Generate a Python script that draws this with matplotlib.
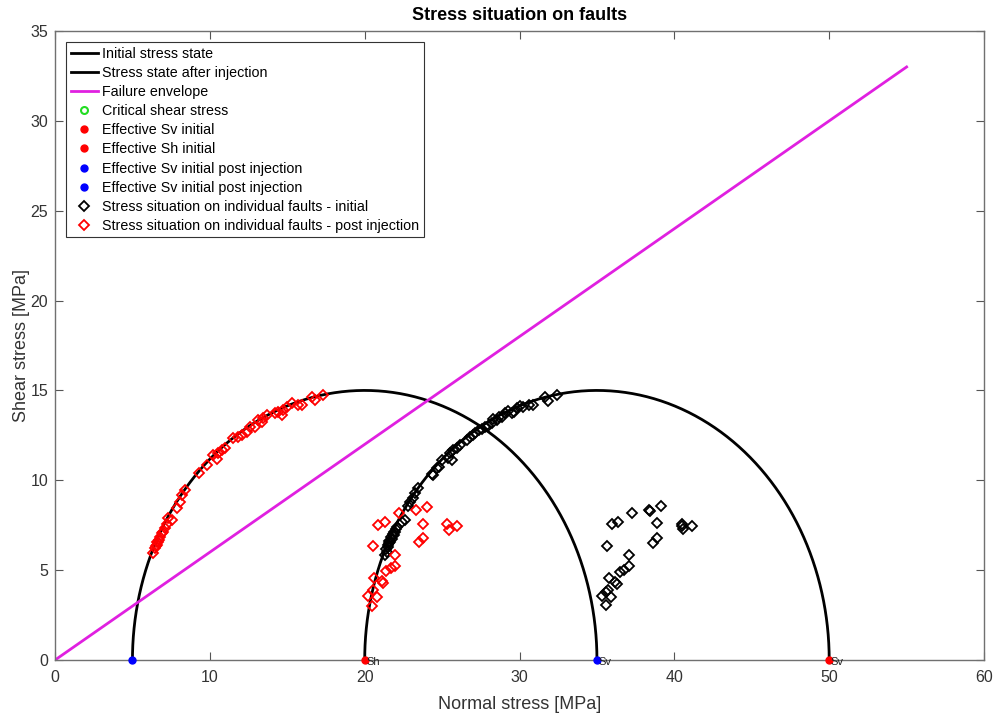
import numpy as np
import matplotlib
matplotlib.use("Agg")
import matplotlib.pyplot as plt

plt.rcParams["font.family"] = ["Liberation Sans", "DejaVu Sans"]

# effective principal stresses [MPa]
sh_initial, sv_initial = 20.0, 50.0
sh_post, sv_post = 5.0, 35.0

# Coulomb failure envelope end points
env_sigma = [0.0, 55.0]
env_tau = [0.0, 33.0]

# stress on individual faults, initial state (normal, shear)
faults_sn_init = [32.41, 31.87, 31.65, 30.90, 30.58, 30.25, 30.04, 29.83, 29.65, 29.50,
                  29.28, 29.07, 28.85, 28.70, 28.53, 28.31, 28.21, 27.99, 27.78, 27.56,
                  27.35, 27.13, 27.02, 26.81, 26.59, 26.16, 25.95, 25.73, 25.52, 25.41,
                  25.63, 24.98, 24.83, 24.66, 24.44, 24.33, 23.47, 23.26, 23.15, 22.93,
                  22.82, 22.61, 22.40, 22.07, 21.96, 21.86, 21.75, 21.64, 21.53, 21.43,
                  21.32, 21.50, 21.60, 21.70, 21.40, 21.80, 22.00, 21.55, 21.90,
                  35.56, 35.32, 35.60, 35.88, 35.71, 35.75, 36.14, 36.30, 36.47, 36.75,
                  37.05, 37.05, 35.67, 35.99, 36.38, 37.29, 38.35, 38.40, 39.12, 38.89,
                  38.63, 38.91, 40.47, 40.58, 41.12, 40.50]
faults_tau_init = [14.75, 14.43, 14.65, 14.19, 14.19, 14.10, 14.13, 14.00, 13.82, 13.73,
                   13.87, 13.73, 13.54, 13.51, 13.36, 13.39, 13.17, 13.02, 12.98, 12.84,
                   12.80, 12.65, 12.52, 12.43, 12.24, 11.96, 11.78, 11.69, 11.50, 11.22,
                   11.13, 11.13, 10.72, 10.67, 10.29, 10.35, 9.55, 9.28, 9.00, 8.81,
                   8.57, 7.79, 7.70, 7.42, 7.14, 6.96, 6.72, 6.58, 6.31, 6.03,
                   5.84, 6.40, 6.60, 6.85, 6.20, 7.00, 7.30, 6.50, 7.10,
                   3.08, 3.58, 3.77, 3.49, 3.91, 4.55, 4.36, 4.23, 4.91, 5.03,
                   5.25, 5.86, 6.33, 7.55, 7.70, 8.18, 8.36, 8.30, 8.55, 7.61,
                   6.49, 6.79, 7.57, 7.29, 7.47, 7.45]

# stress on individual faults after injection (normal, shear)
faults_sn_post = [17.33, 16.80, 16.58, 15.94, 15.72, 15.29, 14.97, 14.75, 14.64, 14.43,
                  14.21, 13.68, 13.46, 13.35, 13.14, 12.92, 12.60, 12.38, 12.06, 11.84,
                  11.52, 10.98, 10.77, 10.55, 10.44, 10.23, 9.80, 9.32, 8.40, 8.18,
                  8.07, 7.86, 7.54, 7.32, 7.11, 6.89, 6.78, 6.67, 6.57, 6.46,
                  6.35, 6.50, 6.60, 6.70, 6.95, 7.20,
                  20.56, 20.89, 21.32, 22.24, 23.32, 24.01, 23.79, 23.51, 23.79, 25.30,
                  25.45, 25.99, 21.96, 21.96, 21.68, 21.38, 21.10, 21.17, 20.63, 20.24,
                  20.46, 20.78, 20.56]
faults_tau_post = [14.75, 14.47, 14.65, 14.19, 14.19, 14.28, 14.10, 13.91, 13.63, 13.82,
                   13.73, 13.63, 13.45, 13.26, 13.36, 12.98, 12.98, 12.71, 12.52, 12.43,
                   12.34, 11.78, 11.69, 11.50, 11.17, 11.41, 10.85, 10.39, 9.46, 9.18,
                   8.81, 8.44, 7.79, 7.89, 7.33, 7.05, 6.86, 6.58, 6.40, 6.22,
                   5.94, 6.35, 6.55, 6.70, 7.15, 7.55,
                   6.36, 7.51, 7.70, 8.16, 8.35, 8.53, 7.57, 6.55, 6.77, 7.57,
                   7.25, 7.47, 5.84, 5.25, 5.10, 4.94, 4.41, 4.29, 4.55, 3.54,
                   3.02, 3.49, 3.91]


def mohr_half_circle(s3, s1, n=400):
    c = 0.5 * (s1 + s3)
    r = 0.5 * (s1 - s3)
    t = np.linspace(0, np.pi, n)
    return c + r * np.cos(t), r * np.sin(t)


fig = plt.figure(figsize=(9.97, 7.16), dpi=100)
ax = fig.add_axes([0.0552, 0.0782, 0.9318, 0.8785])

x, y = mohr_half_circle(sh_initial, sv_initial)
ax.plot(x, y, color="black", lw=2, label="Initial stress state")
x, y = mohr_half_circle(sh_post, sv_post)
ax.plot(x, y, color="black", lw=2, label="Stress state after injection")
ax.plot(env_sigma, env_tau, color="#e020e0", lw=2, label="Failure envelope")
ax.plot([], [], "o", mfc="none", mec="#22dd22", mew=1.5, ms=5, label="Critical shear stress")

pt = dict(marker="o", ms=5, ls="none", clip_on=False, zorder=5)
ax.plot([sv_initial], [0], color="red", label="Effective Sv initial", **pt)
ax.plot([sh_initial], [0], color="red", label="Effective Sh initial", **pt)
ax.plot([sv_post], [0], color="blue", label="Effective Sv initial post injection", **pt)
ax.plot([sh_post], [0], color="blue", label="Effective Sv initial post injection", **pt)

ax.plot(faults_sn_init, faults_tau_init, "D", mfc="none", mec="black", mew=1.3, ms=5,
        label="Stress situation on individual faults - initial")
ax.plot(faults_sn_post, faults_tau_post, "D", mfc="none", mec="red", mew=1.3, ms=5,
        label="Stress situation on individual faults - post injection")

for xs, txt in [(sh_initial, "Sh"), (sv_post, "Sv"), (sv_initial, "Sv")]:
    ax.text(xs + 0.1, -0.1, txt, fontsize=8, color="#222222", ha="left", va="center",
            clip_on=False, zorder=6)

ax.set_xlim(0, 60)
ax.set_ylim(0, 35)
ax.set_xticks(np.arange(0, 61, 10))
ax.set_yticks(np.arange(0, 36, 5))
ax.tick_params(direction="in", length=6, width=0.8, top=True, right=True,
               labelsize=11.5, colors="#555555", labelcolor="#333333")
ax.tick_params(axis="x", pad=7)
ax.tick_params(axis="y", pad=5)
for s in ax.spines.values():
    s.set_color("#707070")
    s.set_linewidth(1.0)

ax.set_xlabel("Normal stress [MPa]", fontsize=13, color="#333333", labelpad=8)
ax.set_ylabel("Shear stress [MPa]", fontsize=13, color="#333333", labelpad=0)
ax.set_title("Stress situation on faults", fontsize=13, fontweight="bold", pad=8)

leg = ax.legend(loc="upper left", fontsize=10.3, frameon=True, fancybox=False,
                framealpha=1, edgecolor="#333333", borderaxespad=0.8,
                handlelength=1.9, handletextpad=0.3, labelspacing=0.36,
                borderpad=0.3)
leg.get_frame().set_linewidth(0.8)

fig.savefig("out.png", dpi=100)
